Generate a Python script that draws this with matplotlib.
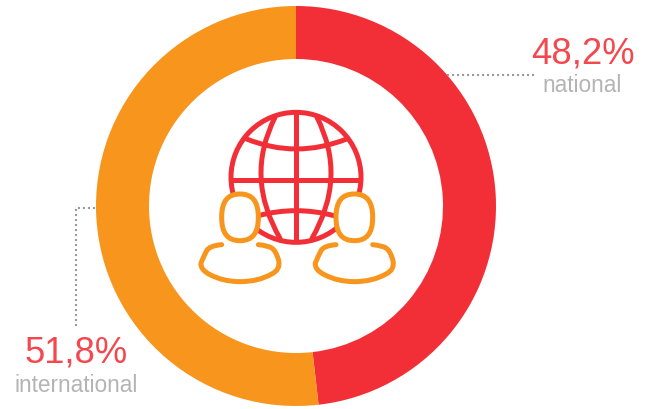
import numpy as np
import matplotlib
matplotlib.use('Agg')
import matplotlib.pyplot as plt
from matplotlib.patches import Circle, PathPatch
from matplotlib.path import Path

labels = ['national', 'international']
values = [48.2, 51.8]
value_labels = ['48,2%', '51,8%']
colors = ['#F22F37', '#F8951D']

plt.rcParams['font.family'] = ['Liberation Sans', 'DejaVu Sans']
W, H = 651, 410
fig = plt.figure(figsize=(W/100, H/100), dpi=100)
ax = fig.add_axes([0, 0, 1, 1])


def Y(y):
    return H - y


def Z(zx, zy):
    return (190 + zx/3, Y(110 + zy/3))


cx, cy, R = 296, 207, 200
ax.pie(values, colors=colors, startangle=90, counterclock=False, center=(cx, Y(cy)), radius=R,
       wedgeprops=dict(width=R-147, linewidth=0), frame=False)
ax.set_xlim(0, W)
ax.set_ylim(0, H)
ax.set_aspect('equal')
ax.axis('off')

RED, ORG = colors
LW = 3.6


def curve(points, color, lw=LW, z=3):
    verts = [Z(*p) for p in points]
    codes = [Path.MOVETO] + [Path.CURVE3] * (len(verts) - 1)
    ax.add_patch(PathPatch(Path(verts, codes), fc='none', ec=color, lw=lw, capstyle='round', zorder=z))


def line(points, color, lw=LW, z=3):
    xs, ys = zip(*[Z(*p) for p in points])
    ax.plot(xs, ys, color=color, lw=lw, solid_capstyle='butt', zorder=z)


# globe
ax.add_patch(Circle(Z(318, 205), 65, fc='none', ec=RED, lw=LW, zorder=3))
line([(318, 10), (318, 400)], RED)
line([(125, 212), (510, 212)], RED)
curve([(255, 25), (164, 205), (270, 388)], RED)
curve([(381, 25), (472, 205), (366, 388)], RED)
curve([(170, 90), (318, 150), (470, 90)], RED)
curve([(205, 320), (318, 290), (432, 320)], RED)


# people
def head(xc, yc, a, b, k=0.68):
    pts = [(xc + a, yc), (xc + a, yc - k*b), (xc + k*a, yc - b), (xc, yc - b),
           (xc - k*a, yc - b), (xc - a, yc - k*b), (xc - a, yc),
           (xc - a, yc + k*b), (xc - k*a, yc + b), (xc, yc + b),
           (xc + k*a, yc + b), (xc + a, yc + k*b), (xc + a, yc)]
    codes = [Path.MOVETO] + [Path.CURVE4] * 12
    ax.add_patch(PathPatch(Path([Z(*p) for p in pts], codes), fc='white', ec=ORG, lw=LW, zorder=4))


def person(dx):
    head(150 + dx, 325, 55, 70)
    shoulder = [(95, 407), (58, 410), (50, 425), (42, 440), (33, 462), (30, 482), (60, 497),
                (100, 518), (150, 518), (205, 518), (245, 495), (272, 482), (266, 455),
                (258, 425), (245, 417), (235, 410), (205, 407)]
    curve([(x + dx, y) for x, y in shoulder], ORG, z=5)


person(0)
person(343)

# leaders
GREY = '#9B9B9B'
DOT = (0, (1, 1.4))
ax.plot([447, 535], [Y(76), Y(76)], color=GREY, lw=1.5, ls=DOT, zorder=2)
ax.plot([95, 75.5, 75.5], [Y(209), Y(209), Y(330)], color=GREY, lw=1.5, ls=DOT, zorder=2)

# labels
VS, NS = 26.2, 16.3
VCOL, NCOL = '#F4484F', '#B4B4B6'
kw = dict(ha='center', va='baseline')
ax.text(582.5, Y(63), value_labels[0], color=VCOL, fontsize=VS, **kw)
ax.text(582.5, Y(92), labels[0], color=NCOL, fontsize=NS, **kw)
ax.text(76, Y(363), value_labels[1], color=VCOL, fontsize=VS, **kw)
ax.text(76.5, Y(392), labels[1], color=NCOL, fontsize=NS, **kw)

fig.savefig('out.png', dpi=100)
